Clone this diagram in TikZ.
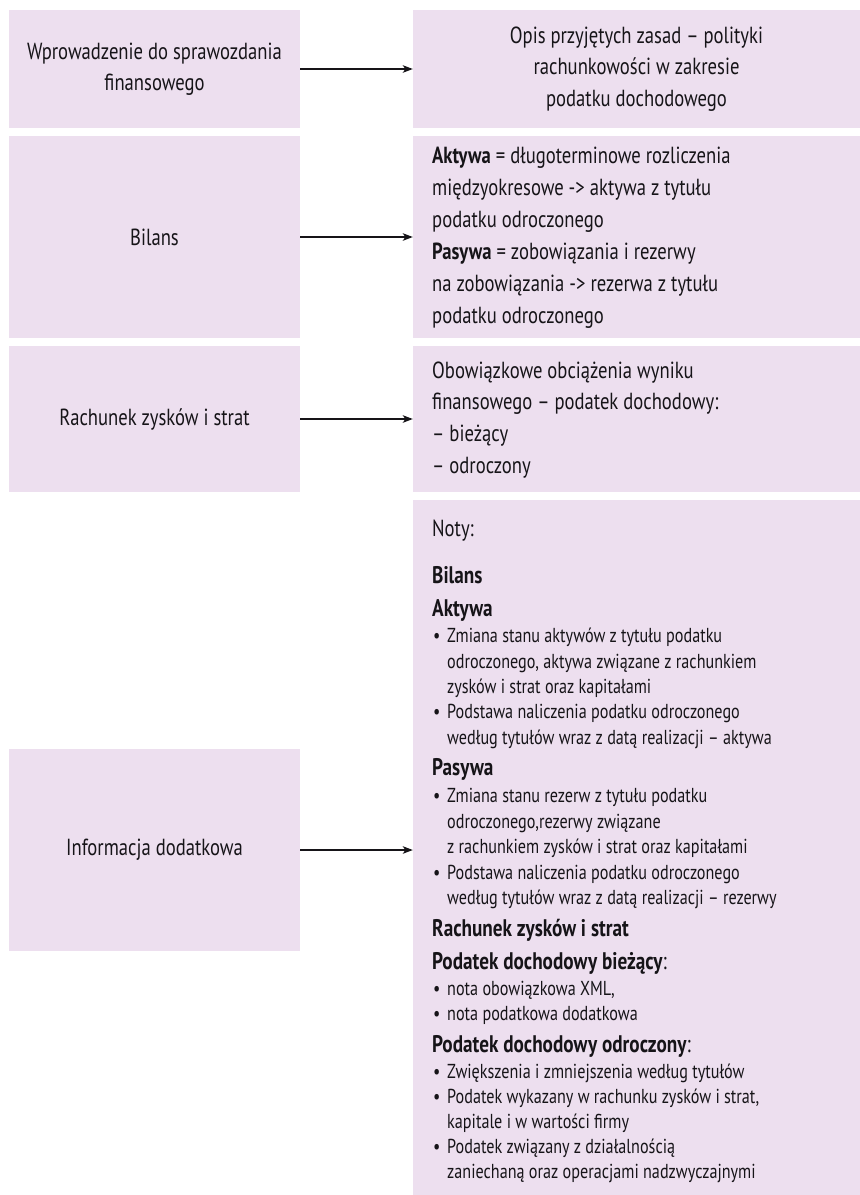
\documentclass[tikz,border=0pt]{standalone}
\usepackage{fontspec}
\setmainfont{PT Sans}[FakeStretch=0.8]
\usetikzlibrary{arrows.meta}
\definecolor{boxfill}{RGB}{237,223,239}
\definecolor{ink}{RGB}{22,20,24}
\newcommand\bodyfont{\fontsize{23.3}{31.5}\selectfont}
\newcommand\itemfont{\fontsize{20.2}{24}\selectfont}
\newcommand\headfont{\bfseries\fontsize{24}{28}\selectfont}
\newcommand\dotmark{\makebox[14pt][l]{•}}

\begin{document}
\begin{tikzpicture}[x=1pt,y=-1pt,
  box/.style={fill=boxfill, draw=none, inner sep=0pt, text=ink,
              font=\bodyfont, align=center},
  link/.style={-{Stealth[length=10pt,width=7.5pt,inset=2.5pt]}, line width=1.3pt, draw=ink},
  body/.style={anchor=base west, inner sep=0pt, text=ink, font=\bodyfont},
  item/.style={anchor=base west, inner sep=0pt, text=ink, font=\itemfont},
  head/.style={anchor=base west, inner sep=0pt, text=ink, font=\headfont}]

\path[use as bounding box, fill=white] (0,0) rectangle (860,1195);

% left column
\node[box, minimum width=291pt, minimum height=118pt] (l1) at (154.5,69)
  {Wprowadzenie do sprawozdania\\finansowego};
\node[box, minimum width=291pt, minimum height=202pt] (l2) at (154.5,237) {Bilans};
\node[box, minimum width=291pt, minimum height=146pt] (l3) at (154.5,419) {Rachunek zysków i strat};
\node[box, minimum width=291pt, minimum height=202pt] (l4) at (154.5,850) {Informacja dodatkowa};

% right column
\node[box, minimum width=447pt, minimum height=118pt] (r1) at (636.5,69)
  {Opis przyjętych zasad – polityki\\rachunkowości w zakresie\\podatku dochodowego};
\node[box, minimum width=447pt, minimum height=202pt] (r2) at (636.5,237) {};
\node[box, minimum width=447pt, minimum height=146pt] (r3) at (636.5,419) {};
\node[box, minimum width=447pt, minimum height=695pt] (r4) at (636.5,847.5) {};

% connectors
\draw[link] (l1.east) -- (r1.west);
\draw[link] (l2.east) -- (r2.west);
\draw[link] (l3.east) -- (r3.west);
\draw[link] (l4.east) -- (l4.east -| r4.west);

% balance sheet
\node[body] (b1) at (432,163) {\textbf{Aktywa} = długoterminowe rozliczenia};
\node[body] (b2) at (432,195) {międzyokresowe -> aktywa z tytułu};
\node[body] (b3) at (432,227) {podatku odroczonego};
\node[body] (b4) at (432,259) {\textbf{Pasywa} = zobowiązania i rezerwy};
\node[body] (b5) at (432,291) {na zobowiązania -> rezerwa z tytułu};
\node[body] (b6) at (432,323) {podatku odroczonego};

% income statement
\node[body] (c1) at (432,378) {Obowiązkowe obciążenia wyniku};
\node[body] (c2) at (432,409.7) {finansowego – podatek dochodowy:};
\node[body] (c3) at (432,441.4) {– bieżący};
\node[body] (c4) at (432,473.1) {– odroczony};

% notes
\node[body] (n0) at (432,536) {Noty:};
\node[head] (n1) at (432,583.5) {Bilans};
\node[head] (n2) at (432,616.5) {Aktywa};
\node[item] (n3) at (433,642) {\dotmark Zmiana stanu aktywów z tytułu podatku};
\node[item] (n4) at (447,668) {odroczonego, aktywa związane z rachunkiem};
\node[item] (n5) at (447,693) {zysków i strat oraz kapitałami};
\node[item] (n6) at (433,718) {\dotmark Podstawa naliczenia podatku odroczonego};
\node[item] (n7) at (447,744) {według tytułów wraz z datą realizacji – aktywa};
\node[head] (n8) at (432,775.5) {Pasywa};
\node[item] (n9) at (433,802) {\dotmark Zmiana stanu rezerw z tytułu podatku};
\node[item] (n10) at (447,828) {odroczonego,rezerwy związane};
\node[item] (n11) at (447,853) {z rachunkiem zysków i strat oraz kapitałami};
\node[item] (n12) at (433,879) {\dotmark Podstawa naliczenia podatku odroczonego};
\node[item] (n13) at (447,904) {według tytułów wraz z datą realizacji – rezerwy};
\node[head] (n14) at (432,936.5) {Rachunek zysków i strat};
\node[head] (n15) at (432,969.5) {Podatek dochodowy bieżący\mdseries:};
\node[item] (n16) at (433,995) {\dotmark nota obowiązkowa XML,};
\node[item] (n17) at (433,1020) {\dotmark nota podatkowa dodatkowa};
\node[head] (n18) at (432,1052.5) {Podatek dochodowy odroczony\mdseries:};
\node[item] (n19) at (433,1078) {\dotmark Zwiększenia i zmniejszenia według tytułów};
\node[item] (n20) at (433,1103) {\dotmark Podatek wykazany w rachunku zysków i strat,};
\node[item] (n21) at (447,1128) {kapitale i w wartości firmy};
\node[item] (n22) at (433,1153) {\dotmark Podatek związany z działalnością};
\node[item] (n23) at (447,1178) {zaniechaną oraz operacjami nadzwyczajnymi};
\end{tikzpicture}
\end{document}
